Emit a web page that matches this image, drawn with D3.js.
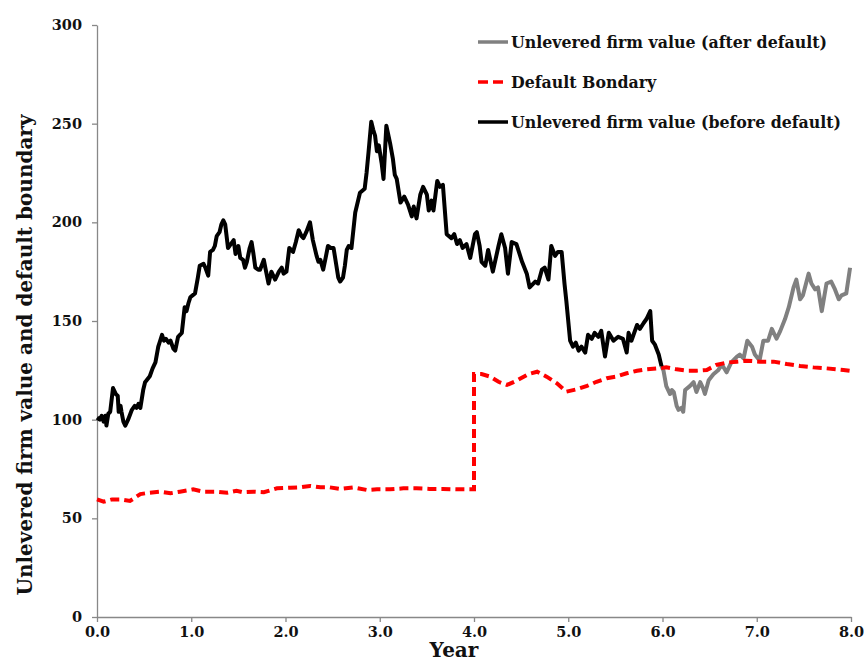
<!DOCTYPE html>
<html>
<head>
<meta charset="utf-8">
<script src="https://cdn.jsdelivr.net/npm/d3@7"></script>
<style>
  body { margin: 0; background: #fff; }
  svg text { font-family: "DejaVu Serif", serif; font-weight: bold; fill: #111; }
</style>
</head>
<body>
<div id="chart"></div>
<script>
// firm value path before default (year, value)
const beforeDefault = [
  [0.00,101],[0.03,100],[0.05,102],[0.07,99],[0.09,102],[0.10,97],[0.12,103],[0.14,104],[0.17,116],[0.20,113],
  [0.22,112],[0.23,104],[0.25,107],[0.26,104],[0.28,99],[0.30,97],[0.33,100],[0.37,105],[0.40,107],[0.42,106],
  [0.44,108],[0.46,106],[0.49,115],[0.51,119],[0.56,122],[0.59,126],[0.62,129],[0.65,137],[0.67,140],[0.69,143],
  [0.71,140],[0.73,141],[0.76,139],[0.78,140],[0.81,136],[0.83,135],[0.86,142],[0.90,144],[0.93,157],[0.95,155],
  [0.97,159],[0.99,162],[1.04,164],[1.07,172],[1.09,178],[1.13,179],[1.15,177],[1.18,173],[1.20,185],[1.23,186],
  [1.25,188],[1.27,193],[1.30,195],[1.32,199],[1.34,201],[1.36,199],[1.39,187],[1.42,189],[1.45,191],[1.47,184],
  [1.50,188],[1.52,182],[1.55,181],[1.57,177],[1.59,180],[1.62,187],[1.64,190],[1.66,184],[1.68,177],[1.71,176],
  [1.73,176],[1.77,181],[1.79,176],[1.82,169],[1.85,175],[1.87,173],[1.89,171],[1.93,175],[1.96,177],[1.98,174],
  [2.01,175],[2.04,187],[2.08,185],[2.11,190],[2.14,196],[2.17,193],[2.19,192],[2.22,195],[2.26,200],[2.29,191],
  [2.33,183],[2.35,180],[2.37,181],[2.40,176],[2.43,183],[2.45,188],[2.48,187],[2.51,187],[2.54,178],[2.56,172],
  [2.58,170],[2.61,172],[2.63,178],[2.65,186],[2.67,188],[2.70,187],[2.74,205],[2.79,215],[2.84,217],[2.86,225],
  [2.88,235],[2.91,251],[2.93,247],[2.95,244],[2.97,236],[2.99,239],[3.02,230],[3.04,222],[3.07,249],[3.11,240],
  [3.14,232],[3.16,224],[3.18,222],[3.22,210],[3.26,213],[3.30,209],[3.34,203],[3.36,208],[3.39,202],[3.43,214],
  [3.46,218],[3.50,214],[3.52,206],[3.55,211],[3.57,206],[3.61,221],[3.64,218],[3.67,219],[3.71,194],[3.76,192],
  [3.79,194],[3.82,189],[3.85,191],[3.88,187],[3.92,189],[3.96,182],[4.01,194],[4.03,195],[4.06,188],[4.08,180],
  [4.12,178],[4.15,186],[4.20,175],[4.26,188],[4.29,194],[4.33,187],[4.36,174],[4.40,190],[4.45,189],[4.51,180],
  [4.56,174],[4.59,167],[4.65,170],[4.68,169],[4.72,176],[4.75,177],[4.79,171],[4.82,188],[4.86,183],[4.89,185],
  [4.93,185],[4.96,169],[4.98,160],[5.02,140],[5.05,137],[5.08,139],[5.11,135],[5.14,137],[5.18,134],[5.21,143],
  [5.25,141],[5.28,144],[5.32,142],[5.35,145],[5.39,132],[5.43,144],[5.48,140],[5.53,142],[5.58,141],[5.62,134],
  [5.64,144],[5.67,140],[5.73,148],[5.76,146],[5.80,149],[5.83,151],[5.87,155],[5.89,140],[5.92,138],[5.96,133],
  [5.99,127]
];

// firm value path after default
const afterDefault = [
  [5.99,127],[6.01,125],[6.04,117],[6.08,113],[6.10,115],[6.12,114],[6.15,107],[6.17,105],[6.20,106],[6.22,104],
  [6.24,115],[6.29,117],[6.33,119],[6.36,114],[6.40,119],[6.43,116],[6.45,113],[6.49,120],[6.54,123],[6.59,125],
  [6.63,128],[6.68,124],[6.73,129],[6.79,132],[6.82,133],[6.86,131],[6.90,140],[6.95,137],[6.98,133],[7.03,130],
  [7.07,140],[7.12,140],[7.16,146],[7.21,141],[7.25,145],[7.30,151],[7.34,157],[7.39,167],[7.42,171],[7.46,161],
  [7.49,163],[7.55,174],[7.58,169],[7.62,166],[7.65,167],[7.69,155],[7.74,169],[7.79,170],[7.83,166],[7.87,161],
  [7.90,163],[7.95,164],[7.99,177]
];

// default boundary
const boundary = [
  [0.00,59.6],[0.07,58.4],[0.16,59.6],[0.25,59.6],[0.35,58.8],[0.46,62.3],[0.56,63.0],[0.67,63.5],[0.78,62.7],[0.88,63.5],
  [1.02,64.7],[1.13,63.5],[1.27,63.5],[1.38,63.0],[1.48,64.0],[1.55,63.2],[1.66,63.5],[1.77,63.2],[1.91,65.2],[2.05,65.5],
  [2.15,65.7],[2.26,66.4],[2.37,65.7],[2.47,65.7],[2.58,64.9],[2.72,65.7],[2.86,64.4],[2.97,64.7],[3.11,64.7],[3.25,65.2],
  [3.39,65.2],[3.53,64.9],[3.67,64.9],[3.82,64.7],[4.00,64.7],[4.00,123.1],[4.08,123.1],[4.17,121.8],[4.26,119.2],[4.35,117.6],
  [4.45,119.7],[4.58,123.1],[4.67,124.3],[4.77,121.8],[4.88,118.4],[4.98,114.2],[5.09,115.4],[5.20,117.1],[5.30,119.2],[5.41,121.0],
  [5.51,121.8],[5.62,123.5],[5.73,124.8],[5.83,125.5],[5.94,126.0],[6.04,126.5],[6.15,125.5],[6.26,124.8],[6.36,124.8],[6.47,125.2],
  [6.57,127.7],[6.68,128.9],[6.79,129.4],[6.89,129.9],[7.03,129.4],[7.18,129.4],[7.32,128.2],[7.46,127.2],[7.60,126.5],[7.74,126.0],
  [7.92,125.2],[8.00,124.7]
];

const xTicks = [0, 1, 2, 3, 4, 5, 6, 7, 8];
const yTicks = [0, 50, 100, 150, 200, 250, 300];
const legendLabels = ["Unlevered firm value (after default)", "Default Bondary", "Unlevered firm value (before default)"];

const width = 864, height = 663;
const margin = {top: 25, right: 13, bottom: 46, left: 97};

const svg = d3.select("#chart").append("svg")
    .attr("width", width)
    .attr("height", height);

const x = d3.scaleLinear().domain([0, 8]).range([margin.left, width - margin.right]);
const y = d3.scaleLinear().domain([0, 300]).range([height - margin.bottom, margin.top]);

// axes
const xAxis = svg.append("g")
    .attr("transform", `translate(0,${height - margin.bottom})`)
    .call(d3.axisBottom(x).tickValues(xTicks).tickFormat(d3.format(".1f")).tickSize(5).tickPadding(5).tickSizeOuter(0));
const yAxis = svg.append("g")
    .attr("transform", `translate(${margin.left},0)`)
    .call(d3.axisLeft(y).tickValues(yTicks).tickSize(5).tickPadding(10).tickSizeOuter(0));

[xAxis, yAxis].forEach(g => {
  g.select(".domain").attr("stroke", "#888").attr("stroke-width", 1.3);
  g.selectAll(".tick line").attr("stroke", "#888").attr("stroke-width", 1.3);
  g.selectAll(".tick text").attr("font-family", "DejaVu Serif").attr("font-size", 14.5).attr("fill", "#111");
});

const line = d3.line().x(d => x(d[0])).y(d => y(d[1]));

svg.append("path").datum(afterDefault)
    .attr("fill", "none").attr("stroke", "#808080").attr("stroke-width", 4)
    .attr("stroke-linejoin", "round").attr("d", line);

svg.append("path").datum(boundary)
    .attr("fill", "none").attr("stroke", "#ff0000").attr("stroke-width", 4)
    .attr("stroke-dasharray", "9,5").attr("d", line);

svg.append("path").datum(beforeDefault)
    .attr("fill", "none").attr("stroke", "#000").attr("stroke-width", 4)
    .attr("stroke-linejoin", "round").attr("d", line);

// axis titles
svg.append("text")
    .attr("x", 454).attr("y", 657)
    .attr("text-anchor", "middle")
    .attr("font-size", 20)
    .text("Year");

svg.append("text")
    .attr("transform", "translate(32,355) rotate(-90)")
    .attr("text-anchor", "middle")
    .attr("font-size", 20)
    .text("Unlevered firm value and default boundary");

// legend
const legendStyles = [
  {color: "#808080", dash: null},
  {color: "#ff0000", dash: "10,5"},
  {color: "#000", dash: null}
];
const legend = svg.append("g").selectAll("g")
    .data(legendLabels)
    .enter().append("g")
    .attr("transform", (d, i) => `translate(478,${42 + i * 40})`);

legend.append("line")
    .attr("x1", 0).attr("x2", 30)
    .attr("stroke", (d, i) => legendStyles[i].color)
    .attr("stroke-width", 3.5)
    .attr("stroke-dasharray", (d, i) => legendStyles[i].dash);

legend.append("text")
    .attr("x", 33).attr("dy", "0.35em")
    .attr("font-size", 15.8)
    .text(d => d);
</script>
</body>
</html>
